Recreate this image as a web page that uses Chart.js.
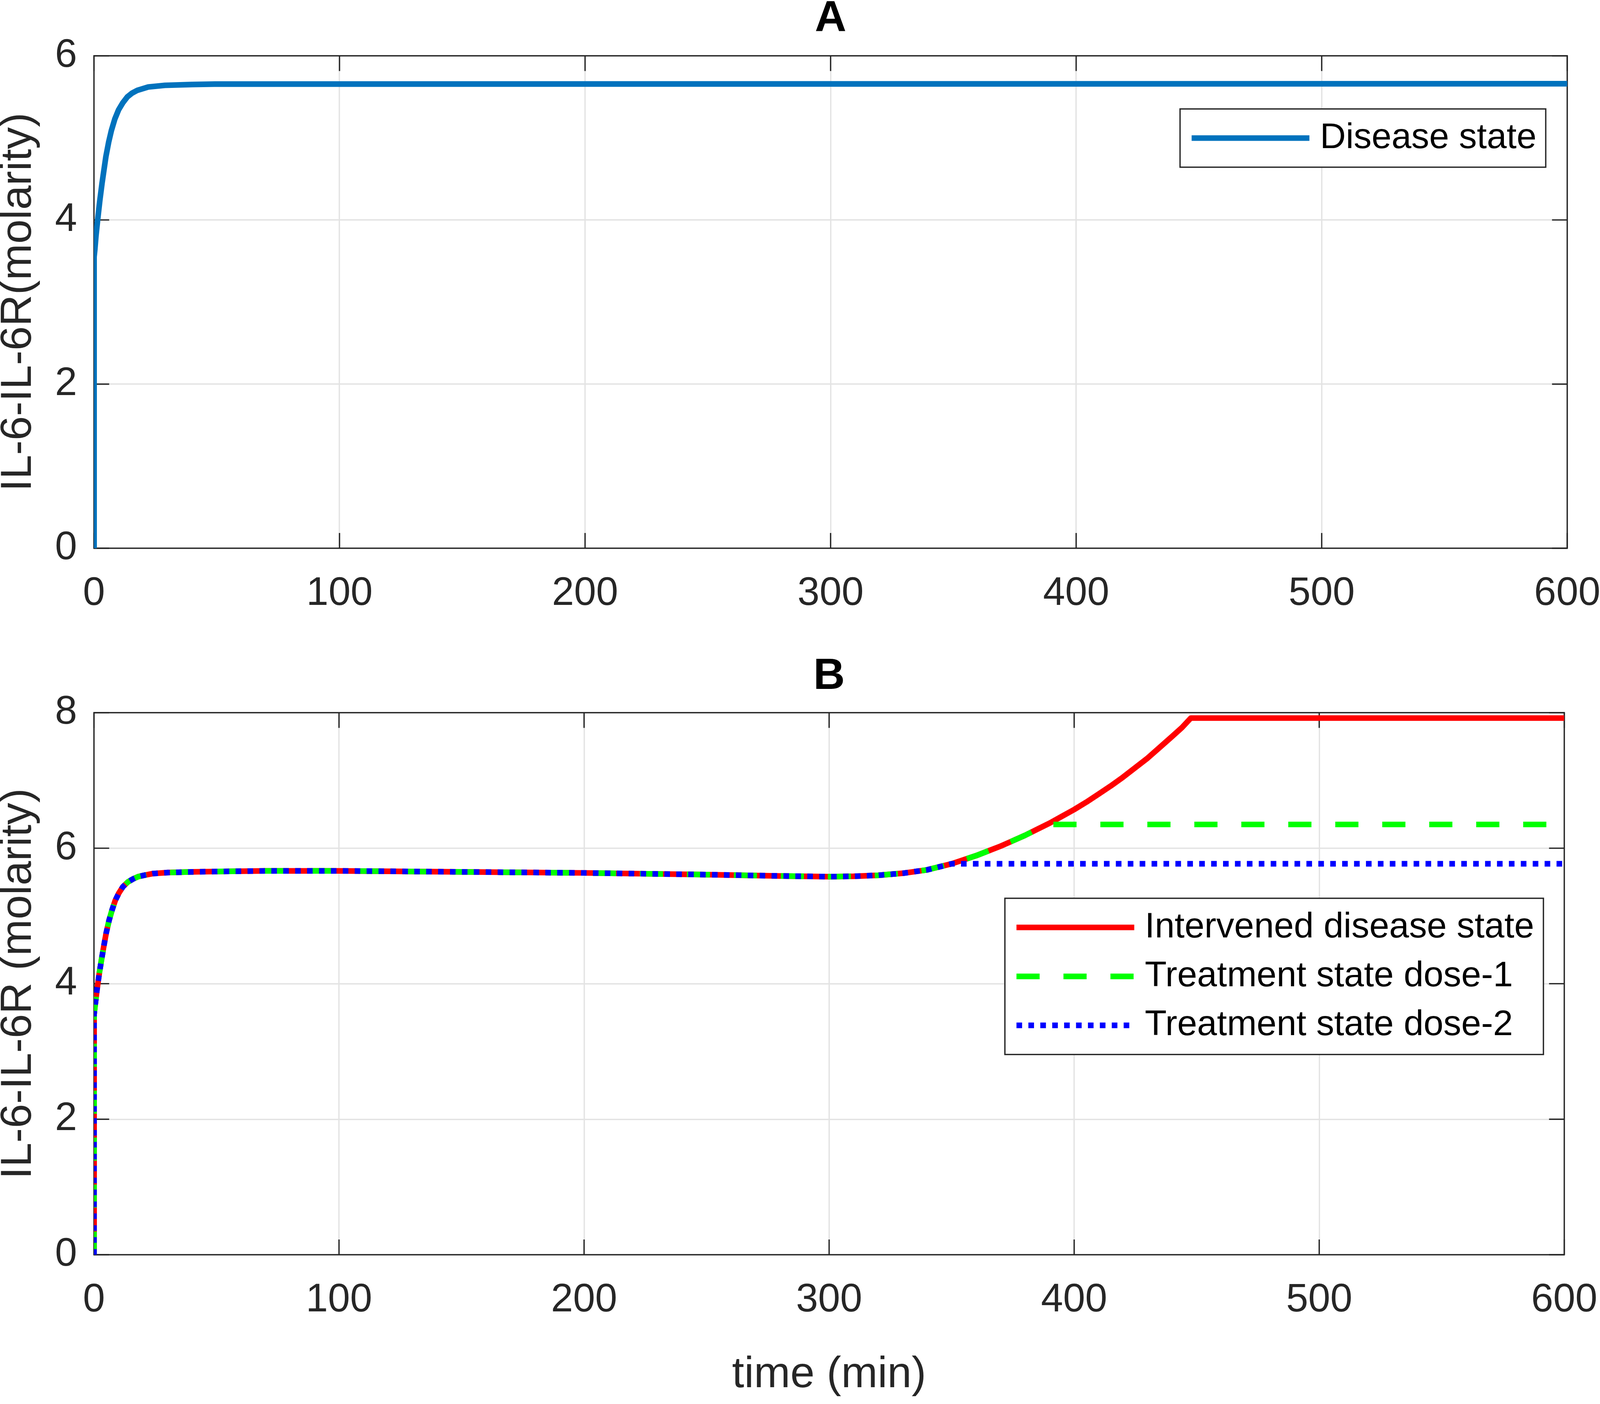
<!DOCTYPE html>
<html lang="en">
<head>
<meta charset="UTF-8">
<title>IL-6-IL-6R</title>
<script src="https://cdn.jsdelivr.net/npm/chart.js"></script>
<style>
  html, body { margin: 0; padding: 0; background: #fff; overflow: hidden; }
  .panel { position: absolute; left: 0; }
</style>
</head>
<body>
<div class="panel" id="panelA"><canvas id="chartA"></canvas></div>
<div class="panel" id="panelB"><canvas id="chartB"></canvas></div>

<script>
// ---- data ----
// panel A: disease state
const timeA = [0, 0.05, 0.36, 0.8, 1.5, 2.4, 3.3, 4.85, 6, 7.1, 8.5, 10, 11.8, 13.6, 15.5, 17.7, 22.1, 28.9, 40, 49, 600];
const diseaseA = [0, 3.55, 3.64, 3.80, 4.0, 4.24, 4.45, 4.77, 4.95, 5.09, 5.23, 5.34, 5.43, 5.50, 5.545, 5.58, 5.62, 5.64, 5.65, 5.655, 5.66];

// panel B: shared part of all three runs (0..350 min)
const timeBase = [0, 0.05, 0.4, 1.2, 2.2, 3.1, 4.0, 5.0, 6.2, 7.4, 8.7, 10.2, 11.8, 13.8, 15.9, 18, 20.4, 24, 30, 40, 49,
    70, 100, 150, 200, 250, 280, 300, 310, 320, 330, 340, 350];
const valBase = [0, 3.55, 3.66, 3.90, 4.16, 4.36, 4.55, 4.75, 4.94, 5.09, 5.23, 5.34, 5.43, 5.50, 5.545, 5.58, 5.60, 5.625, 5.64, 5.65, 5.655,
    5.665, 5.665, 5.65, 5.635, 5.61, 5.59, 5.58, 5.585, 5.60, 5.63, 5.68, 5.77];

// after 350 min
const timeRed = [355, 360, 365, 370, 375, 380, 385, 390, 395, 400, 405, 410, 415, 420, 425, 430, 435, 440, 444, 447.6, 600];
const valRed = [5.83, 5.89, 5.96, 6.03, 6.11, 6.19, 6.28, 6.37, 6.47, 6.57, 6.68, 6.80, 6.92, 7.05, 7.19, 7.33, 7.49, 7.65, 7.78, 7.92, 7.92];
const timeGreen = [355, 360, 365, 370, 375, 380, 385, 388, 600];
const valGreen = [5.83, 5.89, 5.96, 6.03, 6.11, 6.19, 6.28, 6.35, 6.35];
const timeBlue = [600];
const valBlue = [5.77];

const xTicks = [0, 100, 200, 300, 400, 500, 600];
const yTicksA = [0, 2, 4, 6];
const yTicksB = [0, 2, 4, 6, 8];

// ---- page geometry: the figure is laid out in 4836 x 3593 units ----
const REF_W = 4836, REF_H = 3593;
const sx = window.innerWidth / REF_W;
const sy = window.innerHeight / REF_H;
const sf = Math.min(sx, sy);
const X = v => v * sx, Y = v => v * sy, F = v => v * sf;

const SPLIT = 1650;   // boundary between the two panels
const panelA = document.getElementById('panelA');
const panelB = document.getElementById('panelB');
panelA.style.top = '0px';
panelA.style.width = window.innerWidth + 'px';
panelA.style.height = Y(SPLIT) + 'px';
panelB.style.top = Y(SPLIT) + 'px';
panelB.style.width = window.innerWidth + 'px';
panelB.style.height = (window.innerHeight - Y(SPLIT)) + 'px';

// ---- styling ----
const FONT = "'Liberation Sans', Arial, Helvetica, sans-serif";
const AXIS = '#262626';
const GRID = '#e3e3e3';
const TICK_SIZE = F(120), LABEL_SIZE = F(132), LEGEND_SIZE = F(108);
const TICK_LEN = F(46);
const AX_W = F(4);

Chart.defaults.font.family = FONT;
Chart.defaults.color = AXIS;

function points(t, v) {
    return t.map((x, i) => ({ x: x, y: v[i] }));
}

// inner tick marks + box, drawn under the lines like MATLAB
const matlabAxes = {
    id: 'matlabAxes',
    beforeDatasetsDraw(chart) {
        const { ctx, chartArea: a, scales: { x, y } } = chart;
        ctx.save();
        ctx.strokeStyle = AXIS;
        ctx.lineWidth = AX_W;
        ctx.beginPath();
        x.ticks.forEach(t => {
            const px = x.getPixelForValue(t.value);
            ctx.moveTo(px, a.bottom); ctx.lineTo(px, a.bottom - TICK_LEN);
            ctx.moveTo(px, a.top); ctx.lineTo(px, a.top + TICK_LEN);
        });
        y.ticks.forEach(t => {
            const py = y.getPixelForValue(t.value);
            ctx.moveTo(a.left, py); ctx.lineTo(a.left + TICK_LEN, py);
            ctx.moveTo(a.right, py); ctx.lineTo(a.right - TICK_LEN, py);
        });
        ctx.stroke();
        ctx.strokeRect(a.left, a.top, a.right - a.left, a.bottom - a.top);
        ctx.restore();
    }
};

// boxed legend inside the axes
const boxLegend = {
    id: 'boxLegend',
    afterDatasetsDraw(chart, args, opts) {
        const { ctx, chartArea: a } = chart;
        const sets = chart.data.datasets;
        const padL = F(35), sample = F(356), gap = F(32), padR = F(28), padV = F(14), rowH = F(148);
        ctx.save();
        ctx.font = LEGEND_SIZE + 'px ' + FONT;
        const textW = Math.max(...sets.map(d => ctx.measureText(d.label).width));
        const w = padL + sample + gap + textW + padR;
        const h = padV * 2 + rowH * sets.length;
        const bx = a.right - X(opts.right) - w;
        const by = a.top + Y(opts.top);
        ctx.fillStyle = '#fff';
        ctx.fillRect(bx, by, w, h);
        ctx.strokeStyle = AXIS;
        ctx.lineWidth = AX_W;
        ctx.strokeRect(bx, by, w, h);
        sets.forEach((d, i) => {
            const cy = by + padV + rowH * (i + 0.5);
            ctx.setLineDash(d.borderDash || []);
            ctx.strokeStyle = d.borderColor;
            ctx.lineWidth = d.borderWidth;
            ctx.lineCap = 'butt';
            ctx.beginPath();
            ctx.moveTo(bx + padL, cy);
            ctx.lineTo(bx + padL + sample, cy);
            ctx.stroke();
            ctx.setLineDash([]);
            ctx.fillStyle = '#000';
            ctx.textBaseline = 'middle';
            ctx.textAlign = 'left';
            ctx.fillText(d.label, bx + padL + sample + gap, cy);
        });
        ctx.restore();
    }
};

function makeOptions(cfg) {
    return {
        responsive: true,
        maintainAspectRatio: false,
        animation: false,
        layout: { padding: { left: 0, right: X(cfg.padRight), top: 0, bottom: 0 } },
        plugins: {
            legend: { display: false },
            tooltip: { enabled: false },
            title: {
                display: true,
                fullSize: false,
                text: cfg.title,
                color: '#000',
                font: { size: LABEL_SIZE, weight: 'bold', lineHeight: 1 },
                padding: { top: Y(cfg.titlePad[0]), bottom: Y(cfg.titlePad[1]) }
            },
            boxLegend: cfg.legend
        },
        scales: {
            x: {
                type: 'linear',
                min: 0, max: 600,
                afterBuildTicks: s => { s.ticks = xTicks.map(v => ({ value: v })); },
                ticks: { font: { size: TICK_SIZE }, color: AXIS, padding: Y(56), maxRotation: 0 },
                grid: { color: GRID, lineWidth: AX_W, drawTicks: false },
                border: { display: false },
                title: {
                    display: !!cfg.xTitle,
                    text: cfg.xTitle || '',
                    color: AXIS,
                    font: { size: LABEL_SIZE, lineHeight: 1.2 },
                    padding: { top: 0, bottom: Y(7) }
                },
                afterFit: s => {
                    s.height = Y(cfg.xHeight);
                    s.paddingLeft = 0;
                    s.paddingRight = 0;
                }
            },
            y: {
                min: 0, max: cfg.yMax,
                afterBuildTicks: s => { s.ticks = cfg.yTicks.map(v => ({ value: v })); },
                ticks: { font: { size: TICK_SIZE }, color: AXIS, padding: X(51) },
                grid: { color: GRID, lineWidth: AX_W, drawTicks: false },
                border: { display: false },
                title: {
                    display: true,
                    text: cfg.yTitle,
                    color: AXIS,
                    font: { size: LABEL_SIZE, lineHeight: 1 },
                    padding: { top: X(-9), bottom: 0 }
                },
                afterFit: s => {
                    s.width = X(284);
                    s.paddingTop = 0;
                    s.paddingBottom = 0;
                }
            }
        }
    };
}

const lineBase = { pointRadius: 0, tension: 0, borderWidth: F(17), borderJoinStyle: 'round', borderCapStyle: 'butt', fill: false };

new Chart(document.getElementById('chartA'), {
    type: 'line',
    data: {
        datasets: [
            Object.assign({}, lineBase, {
                label: 'Disease state',
                data: points(timeA, diseaseA),
                borderColor: '#0072BD'
            })
        ]
    },
    options: makeOptions({
        title: 'A',
        titlePad: [-7, 38],
        padRight: 99,
        xHeight: 247,
        yMax: 6,
        yTicks: yTicksA,
        yTitle: 'IL-6-IL-6R(molarity)',
        legend: { right: 65, top: 136 }
    }),
    plugins: [matlabAxes, boxLegend]
});

new Chart(document.getElementById('chartB'), {
    type: 'line',
    data: {
        datasets: [
            Object.assign({}, lineBase, {
                label: 'Intervened disease state',
                data: points(timeBase.concat(timeRed), valBase.concat(valRed)),
                borderColor: '#ff0000',
                order: 3
            }),
            Object.assign({}, lineBase, {
                label: 'Treatment state dose-1',
                data: points(timeBase.concat(timeGreen), valBase.concat(valGreen)),
                borderColor: '#00ff00',
                borderDash: [F(70), F(72)],
                order: 2
            }),
            Object.assign({}, lineBase, {
                label: 'Treatment state dose-2',
                data: points(timeBase.concat(timeBlue), valBase.concat(valBlue)),
                borderColor: '#0000ff',
                borderDash: [F(17), F(19)],
                order: 1
            })
        ]
    },
    options: makeOptions({
        title: 'B',
        titlePad: [26, 36],
        padRight: 108,
        xHeight: 382,
        xTitle: 'time (min)',
        yMax: 8,
        yTicks: yTicksB,
        yTitle: 'IL-6-IL-6R (molarity)',
        legend: { right: 63, top: 475 }
    }),
    plugins: [matlabAxes, boxLegend]
});
</script>
</body>
</html>
